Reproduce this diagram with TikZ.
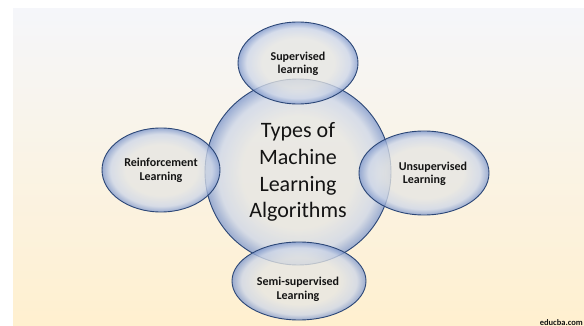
\documentclass[tikz,border=0pt]{standalone}
\usepackage{fontspec}
\setmainfont{Carlito}
\usetikzlibrary{shapes.geometric}

\definecolor{bgtop}{HTML}{F5F6FA}
\definecolor{bgbot}{HTML}{FFF0CF}
\definecolor{bubin}{HTML}{E6E6E3}
\definecolor{bubmid}{HTML}{CDD6E8}
\definecolor{bubedge}{HTML}{7F98CC}
\definecolor{bubline}{HTML}{2B4676}
\definecolor{inktext}{HTML}{141414}
\pgfdeclareradialshading{bubshade}{\pgfpoint{0bp}{0bp}}{color(0bp)=(bubin); color(15bp)=(bubin); color(21.5bp)=(bubmid); color(25bp)=(bubedge); color(50bp)=(bubedge)}

\begin{document}
\begin{tikzpicture}[x=1pt, y=-1pt,
		bubble/.style={ellipse, draw=bubline, line width=0.9pt, shade, shading=bubshade,
			fill opacity=0.78, draw opacity=1, text opacity=1, inner sep=0pt},
		sublabel/.style={align=center, text=inktext, inner sep=0pt,
			font=\bfseries\fontsize{12}{13.5}\selectfont}]
		\useasboundingbox (0,0) rectangle (584,326);
		\shade[top color=bgtop, bottom color=bgbot] (13,9) rectangle (584,326);
		
		\node[bubble, circle, minimum size=186pt, align=center, text=inktext,
			font=\fontsize{22}{26.7}\selectfont] (types) at (298,172) {Types of\\Machine\\Learning\\Algorithms};
		\node[bubble, minimum width=120pt, minimum height=82pt] (sup) at (298,63) {};
		\node[bubble, minimum width=118pt, minimum height=84pt] (reinf) at (161,170) {};
		\node[bubble, minimum width=130pt, minimum height=84pt] (unsup) at (424,173) {};
		\node[bubble, minimum width=134pt, minimum height=78pt] (semi) at (299,281) {};
		
		\node[sublabel] (suptext) at (298,64) {Supervised\\learning};
		\node[sublabel] (reinftext) at (161,170.5) {Reinforcement\\Learning};
		\node[sublabel, align=left] (unsuptext) at (433,174) {Unsupervised\\\hspace{4pt}Learning};
		\node[sublabel] (semitext) at (298,289.5) {Semi-supervised\\Learning};
		
		\node[anchor=south east, inner sep=0pt, text=inktext,
			font=\bfseries\fontsize{8.5}{10}\selectfont] (site) at (583,325.5) {educba.com};
		
	\end{tikzpicture}
\end{document}
